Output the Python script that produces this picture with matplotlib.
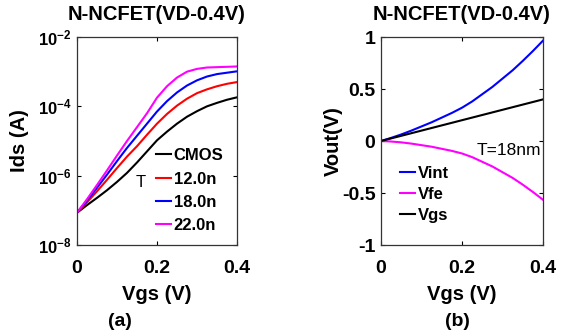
import matplotlib as mpl
mpl.use("Agg")
import matplotlib.pyplot as plt
import numpy as np

mpl.rcParams.update({
    "font.family": ["Liberation Sans", "DejaVu Sans"],
    "font.weight": "bold",
    "mathtext.fontset": "custom",
    "mathtext.bf": "Liberation Sans:bold",
    "mathtext.rm": "Liberation Sans:bold",
    "axes.linewidth": 0.9,
    "legend.frameon": False,
})

# ---- data ----
vgs = [0.0, 0.025, 0.05, 0.075, 0.1, 0.125, 0.15, 0.175, 0.2,
       0.225, 0.25, 0.275, 0.3, 0.325, 0.35, 0.375, 0.4]

# log10(Ids / A), panel (a)
log_cmos = [-7.07, -6.85, -6.64, -6.42, -6.18, -5.92, -5.62, -5.30, -4.98,
            -4.73, -4.50, -4.30, -4.14, -4.00, -3.90, -3.81, -3.74]
log_12n = [-7.07, -6.77, -6.45, -6.12, -5.78, -5.45, -5.15, -4.82, -4.50,
           -4.22, -3.98, -3.78, -3.62, -3.51, -3.42, -3.35, -3.30]
log_18n = [-7.07, -6.72, -6.35, -5.97, -5.58, -5.20, -4.85, -4.50, -4.15,
           -3.85, -3.60, -3.40, -3.25, -3.14, -3.07, -3.03, -2.99]
log_22n = [-7.07, -6.68, -6.27, -5.85, -5.42, -5.00, -4.60, -4.20, -3.75,
           -3.42, -3.17, -3.00, -2.92, -2.88, -2.87, -2.86, -2.85]
series_a = [("CMOS", log_cmos, "k"), ("12.0n", log_12n, "#ff0000"),
            ("18.0n", log_18n, "#0000ff"), ("22.0n", log_22n, "#ff00ff")]

# panel (b), volts
v_int = [0.0, 0.03, 0.063, 0.10, 0.14, 0.18, 0.225, 0.27, 0.32,
         0.38, 0.45, 0.52, 0.60, 0.68, 0.77, 0.865, 0.965]
v_fe = [0.0, -0.005, -0.013, -0.025, -0.04, -0.055, -0.075, -0.095, -0.12,
        -0.155, -0.20, -0.245, -0.30, -0.355, -0.42, -0.49, -0.565]
v_gs = vgs
series_b = [("Vint", v_int, "#0000ff"), ("Vfe", v_fe, "#ff00ff"), ("Vgs", v_gs, "k")]

W, H = 569, 333
fig = plt.figure(figsize=(W / 100, H / 100), dpi=100)

def px_axes(x0, x1, y0, y1):
    return fig.add_axes([x0 / W, 1 - y1 / H, (x1 - x0) / W, (y1 - y0) / H])

def style(ax):
    ax.tick_params(direction="in", length=3, width=0.8, top=True, right=True,
                   labelsize=14, pad=4)
    ax.tick_params(axis="x", pad=11)
    ax.minorticks_off()
    for sp in ax.spines.values():
        sp.set_color("#333333")

# ---- (a) ----
ax1 = px_axes(77, 237, 37, 245)
for name, lg, col in series_a:
    ax1.plot(vgs, 10.0 ** np.array(lg), color=col, lw=1.5, label=name)
ax1.set_yscale("log")
ax1.set_xlim(0, 0.4)
ax1.set_ylim(1e-8, 1e-2)
ax1.set_xticks([0, 0.2, 0.4])
ax1.set_xticklabels(["0", "0.2", "0.4"])
ax1.set_yticks([1e-8, 1e-6, 1e-4, 1e-2])
ax1.set_yticklabels([r"$\mathbf{10^{-8}}$", r"$\mathbf{10^{-6}}$",
                     r"$\mathbf{10^{-4}}$", r"$\mathbf{10^{-2}}$"])
style(ax1)
ax1.tick_params(axis="y", labelsize=12)
ax1.set_title("N-NCFET(VD-0.4V)", fontsize=14.5, fontweight="bold", pad=12)
ax1.set_xlabel("Vgs (V)", fontsize=14.5, fontweight="bold")
ax1.xaxis.set_label_coords(0.5, -0.19)
ax1.set_ylabel("Ids (A)", fontsize=14.5, fontweight="bold")
ax1.yaxis.set_label_coords(-0.30, 0.5)
ax1.legend(loc="upper left", bbox_to_anchor=(0.495, 0.465), fontsize=12,
           handlelength=0.9, handletextpad=0.15, labelspacing=0.5,
           borderpad=0, borderaxespad=0)
ax1.text(0.40, 0.30, "T", transform=ax1.transAxes, fontsize=12,
         fontweight="normal", ha="center", va="center")
fig.text(120 / W, 1 - 321 / H, "(a)", fontsize=14, fontweight="bold",
         ha="center", va="center")

# ---- (b) ----
ax2 = px_axes(381, 543, 37, 245)
for name, vals, col in series_b:
    ax2.plot(vgs, vals, color=col, lw=1.5, label=name)
ax2.set_xlim(0, 0.4)
ax2.set_ylim(-1, 1)
ax2.set_xticks([0, 0.2, 0.4])
ax2.set_xticklabels(["0", "0.2", "0.4"])
ax2.set_yticks([-1, -0.5, 0, 0.5, 1])
ax2.set_yticklabels(["-1", "-0.5", "0", "0.5", "1"])
style(ax2)
ax2.set_title("N-NCFET(VD-0.4V)", fontsize=14.5, fontweight="bold", pad=12)
ax2.set_xlabel("Vgs (V)", fontsize=14.5, fontweight="bold")
ax2.xaxis.set_label_coords(0.5, -0.19)
ax2.set_ylabel("Vout(V)", fontsize=14.5, fontweight="bold")
ax2.yaxis.set_label_coords(-0.235, 0.5)
ax2.legend(loc="upper left", bbox_to_anchor=(0.12, 0.38), fontsize=12,
           handlelength=0.9, handletextpad=0.15, labelspacing=0.35,
           borderpad=0, borderaxespad=0)
ax2.text(0.395, -0.09, "T=18nm", fontsize=12.5, fontweight="normal",
         ha="right", va="center")
fig.text(457 / W, 1 - 321 / H, "(b)", fontsize=14, fontweight="bold",
         ha="center", va="center")

fig.savefig("out.png", dpi=100)
